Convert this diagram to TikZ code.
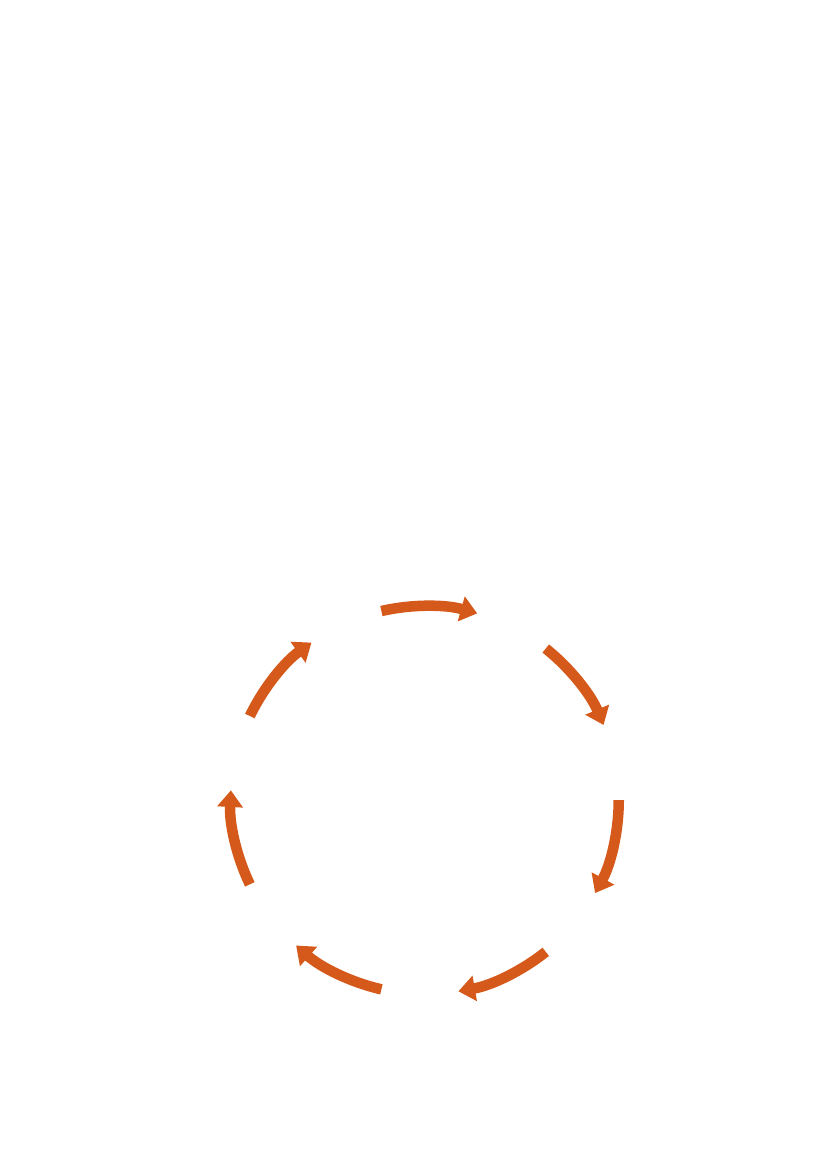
\documentclass[tikz,border=0pt]{standalone}
\usetikzlibrary{arrows.meta}
\definecolor{cycleorange}{RGB}{213,89,26}
\tikzset{cyclearrow/.style={draw=cycleorange, line width=7.6pt,
    -{Triangle[width=18pt,length=12pt]}}}
\begin{document}
\begin{tikzpicture}
      \useasboundingbox (0,0) rectangle (21,29.7);
      \begin{scope}[shift={(10.79,9.37)}]
        \coordinate (0) at (102.9:4.93);
        \coordinate (1) at (51.4:4.93);
        \coordinate (2) at (0.0:4.93);
        \coordinate (3) at (-51.4:4.93);
        \coordinate (4) at (-102.9:4.93);
        \coordinate (5) at (-154.3:4.93);
        \coordinate (6) at (154.3:4.93);
        \draw[cyclearrow] (0) arc[start angle=102.9, delta angle=-28.6, radius=4.93];
        \draw[cyclearrow] (1) arc[start angle=51.4, delta angle=-28.6, radius=4.93];
        \draw[cyclearrow] (2) arc[start angle=0.0, delta angle=-28.6, radius=4.93];
        \draw[cyclearrow] (3) arc[start angle=-51.4, delta angle=-28.6, radius=4.93];
        \draw[cyclearrow] (4) arc[start angle=-102.9, delta angle=-28.6, radius=4.93];
        \draw[cyclearrow] (5) arc[start angle=-154.3, delta angle=-28.6, radius=4.93];
        \draw[cyclearrow] (6) arc[start angle=154.3, delta angle=-28.6, radius=4.93];
      \end{scope}
    \end{tikzpicture}
\end{document}
